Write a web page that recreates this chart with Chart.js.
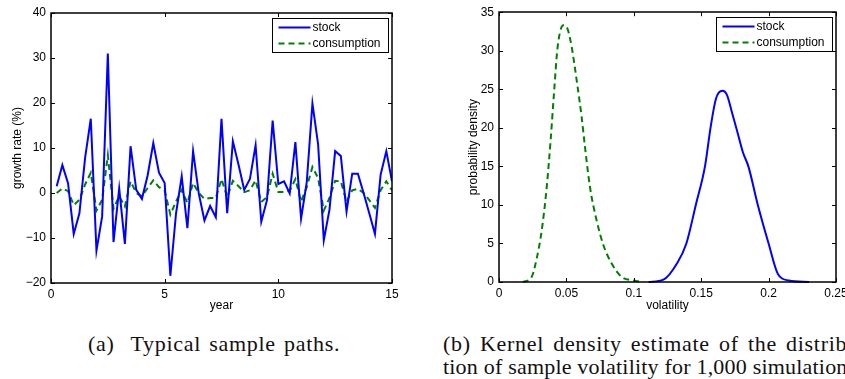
<!DOCTYPE html>
<html>
<head>
<meta charset="utf-8">
<script src="https://cdn.jsdelivr.net/npm/chart.js@4.4.1/dist/chart.umd.min.js"></script>
<style>
  html, body { margin: 0; padding: 0; background: #fff; overflow: hidden; width: 845px; height: 379px; }
  canvas { position: absolute; top: 0; }
  #pathsChart { left: 0; }
  #densityChart { left: 425px; }
  .caption { position: absolute; font-family: "Liberation Serif", serif; font-size: 22px; color: #111; white-space: nowrap; line-height: 1; letter-spacing: 0.7px; word-spacing: 2px; }
</style>
</head>
<body>
<canvas id="pathsChart" width="410" height="320"></canvas>
<canvas id="densityChart" width="440" height="320"></canvas>
<div class="caption" style="left:88px; top:333px;">(a)&nbsp; Typical sample paths.</div>
<div class="caption" style="left:443px; top:333px; word-spacing: 3px;">(b) Kernel density estimate of the distribu-</div>
<div class="caption" style="left:443px; top:356px; letter-spacing: 0.2px; word-spacing: 0;">tion of sample volatility for 1,000 simulations.</div>
<script>
// (a) sample paths, quarterly points
const years = [0.25, 0.5, 0.75, 1, 1.25, 1.5, 1.75, 2, 2.25, 2.5, 2.75, 3, 3.25, 3.5, 3.75, 4,
  4.25, 4.5, 4.75, 5, 5.25, 5.5, 5.75, 6, 6.25, 6.5, 6.75, 7, 7.25, 7.5, 7.75, 8,
  8.25, 8.5, 8.75, 9, 9.25, 9.5, 9.75, 10, 10.25, 10.5, 10.75, 11, 11.25, 11.5, 11.75, 12,
  12.25, 12.5, 12.75, 13, 13.25, 13.5, 13.75, 14, 14.25, 14.5, 14.75, 15];
const stockGrowth = [1.5, 6.2, 2.2, -9.1, -4.5, 7.8, 16.5, -12.8, -5.2, 31, -10.9, 1, -11.3, 10.4, 0.7, -1.3,
  3.9, 11.1, 4.5, 2.2, -18.4, -4.5, 3.7, -7.8, 9.3, -0.1, -6.1, -2.9, -5.4, 16.5, -4.5, 11.5,
  6.3, 0.7, 3.1, 10.6, -6.4, -1.6, 16.1, 2, 2.6, -0.1, 11.3, -5.7, 2.4, 19.9, 10.8, -10.5,
  -3.7, 9.3, 8.2, -4.1, 4.3, 4.3, 0, -4.5, -9.1, 4.1, 9.3, 2.6];
const consGrowth = [0, 1, 0.4, -2.7, -1.5, 1.9, 4.5, -3.9, -1.5, 8.4, -3.5, -0.7, -3, 2.6, 0, -0.7,
  1.1, 2.8, 1.3, 0.5, -4.8, -1.9, 0.7, -2.2, 2.2, 0, -1.3, -1.1, -1.1, 3.1, -0.9, 2.7,
  1.5, 0.2, 0.6, 2.8, -2, -0.9, 4.3, 0.2, 0.2, 0.5, 3.1, -1.9, 1.3, 5.8, 3.3, -3.9,
  -1.1, 2.7, 2.6, -1.9, 0.6, 0.9, 0, -1.6, -3.3, 0.6, 2.6, 0.6];
const yearTicks = [0, 5, 10, 15];
const growthTicks = [-20, -10, 0, 10, 20, 30, 40];

// (b) kernel density of sample volatility
const stockVol = [0.111, 0.122, 0.132, 0.139, 0.146, 0.1528, 0.157, 0.161, 0.1657, 0.169, 0.173, 0.1768,
  0.181, 0.185, 0.192, 0.2, 0.207, 0.215, 0.23];
const stockDens = [0, 0.3, 2.4, 5.0, 10.0, 15.0, 20.1, 23.8, 24.8, 24.3, 21.9, 19.5,
  16.8, 15.0, 10.0, 5.0, 1.0, 0.2, 0];
const consVol = [0.0176, 0.0242, 0.0279, 0.0317, 0.0354, 0.0383, 0.0408, 0.0435, 0.0477, 0.0507, 0.0539,
  0.0576, 0.0613, 0.0638, 0.0675, 0.0724, 0.0774, 0.0836, 0.091, 0.0997, 0.107];
const consDens = [0, 0.65, 3.0, 6.7, 12.3, 18.4, 24.5, 30.5, 33.3, 32.9, 30.5,
  26.2, 21.4, 17.5, 12.3, 8.0, 4.8, 2.4, 0.65, 0.2, 0];
const volTicks = [0, 0.05, 0.1, 0.15, 0.2, 0.25];
const densTicks = [0, 5, 10, 15, 20, 25, 30, 35];

const seriesNames = ['stock', 'consumption'];
const blue = '#0000ff';
const green = '#008000';

Chart.defaults.font.family = '"Liberation Sans", Arial, sans-serif';
Chart.defaults.font.size = 12;
Chart.defaults.color = '#000';

function zip(xs, ys) {
  return xs.map((x, i) => ({ x: x, y: ys[i] }));
}

function minus(v) {
  return String(v).replace('-', '\u2212');
}

// MATLAB style box: frame, inward ticks on all sides, boxed legend top right
const matlabBox = {
  id: 'matlabBox',
  afterDraw(chart) {
    const { ctx, chartArea: a, scales } = chart;
    const xs = scales.x, ys = scales.y;
    ctx.save();
    ctx.strokeStyle = '#000';
    ctx.lineWidth = 1;
    ctx.beginPath();
    xs.ticks.forEach(t => {
      const px = Math.round(xs.getPixelForValue(t.value)) + 0.5;
      ctx.moveTo(px, a.bottom); ctx.lineTo(px, a.bottom - 4);
      ctx.moveTo(px, a.top); ctx.lineTo(px, a.top + 4);
    });
    ys.ticks.forEach(t => {
      const py = Math.round(ys.getPixelForValue(t.value)) + 0.5;
      ctx.moveTo(a.left, py); ctx.lineTo(a.left + 4, py);
      ctx.moveTo(a.right, py); ctx.lineTo(a.right - 4, py);
    });
    ctx.stroke();
    ctx.lineWidth = 1.5;
    ctx.strokeRect(Math.round(a.left), Math.round(a.top), Math.round(a.width), Math.round(a.height));

    // legend
    const w = 116, h = 34;
    const lx = Math.round(a.right - 4 - w) + 0.5, ly = Math.round(a.top + 5) + 0.5;
    ctx.fillStyle = '#fff';
    ctx.fillRect(lx, ly, w, h);
    ctx.lineWidth = 1;
    ctx.strokeRect(lx, ly, w, h);
    ctx.font = '12px "Liberation Sans", Arial, sans-serif';
    ctx.textBaseline = 'middle';
    chart.data.datasets.forEach((ds, i) => {
      const cy = ly + 9 + i * 16;
      ctx.beginPath();
      ctx.strokeStyle = ds.borderColor;
      ctx.lineWidth = ds.borderWidth;
      ctx.setLineDash(ds.borderDash || []);
      ctx.moveTo(lx + 6, cy); ctx.lineTo(lx + 38, cy);
      ctx.stroke();
      ctx.setLineDash([]);
      ctx.fillStyle = '#000';
      ctx.fillText(ds.label, lx + 40, cy + 0.5);
    });
    ctx.restore();
  }
};

function buildOptions(cfg) {
  return {
    responsive: false,
    animation: false,
    devicePixelRatio: 1,
    layout: { padding: cfg.padding },
    plugins: { legend: { display: false }, tooltip: { enabled: false } },
    elements: { point: { radius: 0 } },
    scales: {
      x: {
        type: 'linear',
        min: cfg.xTicks[0], max: cfg.xTicks[cfg.xTicks.length - 1],
        grid: { drawOnChartArea: false, drawTicks: false },
        border: { display: false },
        afterBuildTicks: s => { s.ticks = cfg.xTicks.map(v => ({ value: v })); },
        ticks: { padding: 4, maxRotation: 0, autoSkip: false, callback: v => minus(v) },
        title: { display: true, text: cfg.xTitle, padding: { top: 0, bottom: 7 } },
        afterFit: s => { s.height = cfg.xHeight; }
      },
      y: {
        min: cfg.yTicks[0], max: cfg.yTicks[cfg.yTicks.length - 1],
        grid: { drawOnChartArea: false, drawTicks: false },
        border: { display: false },
        afterBuildTicks: s => { s.ticks = cfg.yTicks.map(v => ({ value: v })); },
        ticks: { padding: 5, autoSkip: false, callback: v => minus(v) },
        title: { display: true, text: cfg.yTitle, padding: { top: cfg.yTitlePad, bottom: 0 } },
        afterFit: s => { s.width = cfg.yWidth; }
      }
    }
  };
}

new Chart(document.getElementById('pathsChart'), {
  type: 'line',
  data: {
    datasets: [
      { label: seriesNames[0], data: zip(years, stockGrowth), borderColor: blue, borderWidth: 2, tension: 0 },
      { label: seriesNames[1], data: zip(years, consGrowth), borderColor: green, borderWidth: 2, borderDash: [6, 4], tension: 0 }
    ]
  },
  options: buildOptions({
    padding: { top: 13, right: 18, bottom: 0, left: 0 },
    xTicks: yearTicks, xTitle: 'year', xHeight: 37,
    yTicks: growthTicks, yTitle: 'growth rate (%)', yTitlePad: 10, yWidth: 51
  }),
  plugins: [matlabBox]
});

new Chart(document.getElementById('densityChart'), {
  type: 'line',
  data: {
    datasets: [
      { label: seriesNames[0], data: zip(stockVol, stockDens), borderColor: blue, borderWidth: 2, cubicInterpolationMode: 'monotone', clip: false },
      { label: seriesNames[1], data: zip(consVol, consDens), borderColor: green, borderWidth: 2, borderDash: [6, 4], cubicInterpolationMode: 'monotone', clip: false }
    ]
  },
  options: buildOptions({
    padding: { top: 12, right: 29, bottom: 0, left: 0 },
    xTicks: volTicks, xTitle: 'volatility', xHeight: 38,
    yTicks: densTicks, yTitle: 'probability density', yTitlePad: 41, yWidth: 74
  }),
  plugins: [matlabBox]
});
</script>
</body>
</html>
